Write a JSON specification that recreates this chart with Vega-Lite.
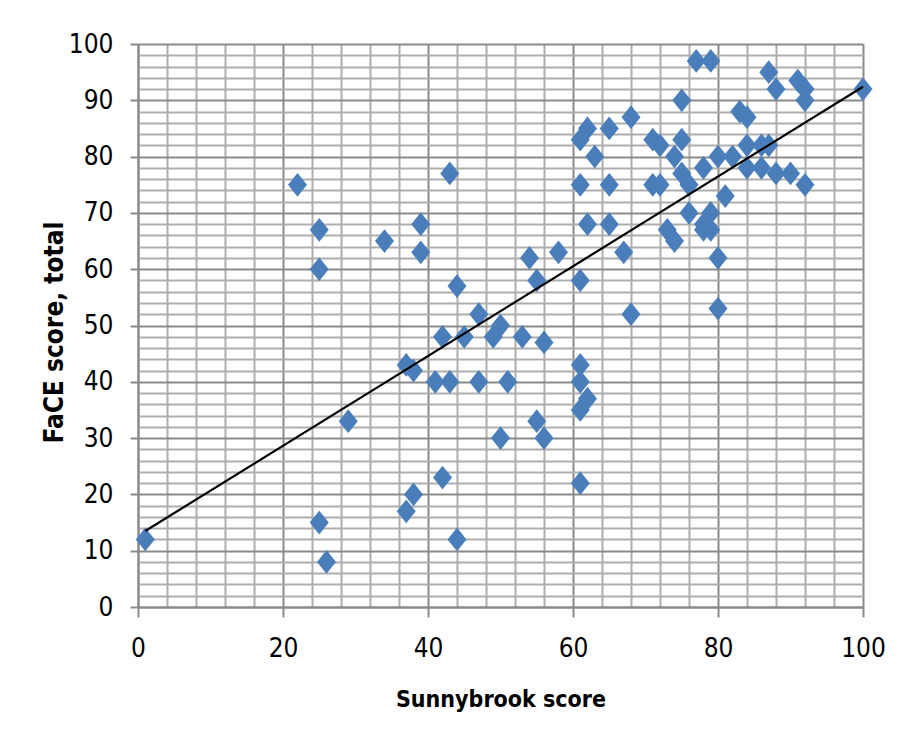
{
  "$schema": "https://vega.github.io/schema/vega-lite/v6.json",
  "width": 725,
  "height": 563,
  "autosize": {"type": "none"},
  "padding": {"left": 138, "top": 44, "right": 36, "bottom": 144},
  "background": "white",
  "config": {
    "view": {"stroke": null},
    "axis": {
      "labelFont": "DejaVu Sans Condensed, sans-serif",
      "titleFont": "DejaVu Sans Condensed, sans-serif",
      "labelColor": "#000000",
      "titleColor": "#000000"
    }
  },
  "datasets": {
    "pts": [
      {"s": 1, "f": 12}, {"s": 22, "f": 75}, {"s": 25, "f": 67}, {"s": 25, "f": 60}, {"s": 25, "f": 15},
      {"s": 26, "f": 8}, {"s": 29, "f": 33}, {"s": 34, "f": 65}, {"s": 37, "f": 43}, {"s": 37, "f": 17},
      {"s": 38, "f": 42}, {"s": 38, "f": 20}, {"s": 39, "f": 68}, {"s": 39, "f": 63}, {"s": 41, "f": 40},
      {"s": 42, "f": 48}, {"s": 42, "f": 23}, {"s": 43, "f": 77}, {"s": 43, "f": 40}, {"s": 44, "f": 57},
      {"s": 44, "f": 12}, {"s": 45, "f": 48}, {"s": 47, "f": 52}, {"s": 47, "f": 40}, {"s": 49, "f": 48},
      {"s": 50, "f": 50}, {"s": 50, "f": 30}, {"s": 51, "f": 40}, {"s": 53, "f": 48}, {"s": 54, "f": 62},
      {"s": 55, "f": 58}, {"s": 55, "f": 33}, {"s": 56, "f": 47}, {"s": 56, "f": 30}, {"s": 58, "f": 63},
      {"s": 61, "f": 83}, {"s": 62, "f": 85}, {"s": 61, "f": 75}, {"s": 61, "f": 58}, {"s": 61, "f": 43},
      {"s": 61, "f": 40}, {"s": 62, "f": 37}, {"s": 61, "f": 35}, {"s": 61, "f": 22}, {"s": 62, "f": 68},
      {"s": 63, "f": 80}, {"s": 65, "f": 85}, {"s": 65, "f": 75}, {"s": 65, "f": 68}, {"s": 67, "f": 63},
      {"s": 68, "f": 87}, {"s": 68, "f": 52}, {"s": 71, "f": 83}, {"s": 72, "f": 82}, {"s": 71, "f": 75},
      {"s": 72, "f": 75}, {"s": 73, "f": 67}, {"s": 74, "f": 65}, {"s": 74, "f": 80}, {"s": 75, "f": 90},
      {"s": 75, "f": 83}, {"s": 75, "f": 77}, {"s": 76, "f": 75}, {"s": 76, "f": 70}, {"s": 77, "f": 97},
      {"s": 79, "f": 97}, {"s": 78, "f": 78}, {"s": 78, "f": 68}, {"s": 78, "f": 67}, {"s": 79, "f": 67},
      {"s": 79, "f": 70}, {"s": 80, "f": 80}, {"s": 80, "f": 62}, {"s": 80, "f": 53}, {"s": 81, "f": 73},
      {"s": 82, "f": 80}, {"s": 83, "f": 88}, {"s": 84, "f": 87}, {"s": 84, "f": 82}, {"s": 84, "f": 78},
      {"s": 86, "f": 82}, {"s": 87, "f": 82}, {"s": 86, "f": 78}, {"s": 87, "f": 95}, {"s": 88, "f": 92},
      {"s": 88, "f": 77}, {"s": 90, "f": 77}, {"s": 91, "f": 93.5}, {"s": 92, "f": 92}, {"s": 92, "f": 90},
      {"s": 92, "f": 75}, {"s": 100, "f": 92}
    ],
    "trend": [
      {"s": 1, "f": 13.5},
      {"s": 100, "f": 92.4}
    ]
  },
  "layer": [
    {
      "data": {"name": "pts"},
      "mark": {
        "type": "point",
        "shape": "M0,-1.25L1,0L0,1.25L-1,0Z",
        "filled": true,
        "size": 361,
        "color": "#4a7ebb",
        "opacity": 1,
        "strokeWidth": 0
      },
      "encoding": {
        "x": {
          "field": "s",
          "type": "quantitative",
          "scale": {"domain": [0, 100], "nice": false, "zero": false},
          "axis": {
            "orient": "bottom",
            "values": [0, 20, 40, 60, 80, 100],
            "grid": true,
            "gridColor": "#8a8a8a",
            "gridWidth": 2,
            "domainColor": "#8a8a8a",
            "domainWidth": 2,
            "tickColor": "#8a8a8a",
            "tickWidth": 2,
            "tickSize": 10,
            "labelPadding": 18,
            "labelFontSize": 26,
            "labelFlush": false,
            "title": "Sunnybrook score",
            "titleFontSize": 23,
            "titleFontWeight": "bold",
            "titleX": 362.5,
            "titleY": 99,
            "titleAlign": "center",
            "titleBaseline": "alphabetic"
          }
        },
        "y": {
          "field": "f",
          "type": "quantitative",
          "scale": {"domain": [0, 100], "nice": false, "zero": false},
          "axis": {
            "orient": "left",
            "values": [0, 10, 20, 30, 40, 50, 60, 70, 80, 90, 100],
            "grid": true,
            "gridColor": "#8a8a8a",
            "gridWidth": 2,
            "domainColor": "#8a8a8a",
            "domainWidth": 2,
            "tickColor": "#8a8a8a",
            "tickWidth": 2,
            "tickSize": 8,
            "labelPadding": 17,
            "labelFontSize": 26,
            "labelFlush": false,
            "title": "FaCE score, total",
            "titleFontSize": 26,
            "titleFontWeight": "bold",
            "titleAngle": -90,
            "titleX": -84,
            "titleY": 288,
            "titleAlign": "center",
            "titleBaseline": "middle"
          }
        }
      }
    },
    {
      "data": {"name": "trend"},
      "mark": {"type": "line", "color": "#000000", "strokeWidth": 2.2},
      "encoding": {
        "x": {
          "field": "s",
          "type": "quantitative",
          "axis": {
            "orient": "top",
            "values": [4, 8, 12, 16, 24, 28, 32, 36, 44, 48, 52, 56, 64, 68, 72, 76, 84, 88, 92, 96],
            "grid": true,
            "gridColor": "#adadad",
            "gridWidth": 2,
            "domain": false,
            "ticks": false,
            "labels": false,
            "title": null
          }
        },
        "y": {
          "field": "f",
          "type": "quantitative",
          "axis": {
            "orient": "right",
            "values": [2, 4, 6, 8, 12, 14, 16, 18, 22, 24, 26, 28, 32, 34, 36, 38, 42, 44, 46, 48, 52, 54, 56, 58, 62, 64, 66, 68, 72, 74, 76, 78, 82, 84, 86, 88, 92, 94, 96, 98],
            "grid": true,
            "gridColor": "#adadad",
            "gridWidth": 2,
            "domain": false,
            "ticks": false,
            "labels": false,
            "title": null
          }
        }
      }
    }
  ],
  "resolve": {"axis": {"x": "independent", "y": "independent"}}
}
